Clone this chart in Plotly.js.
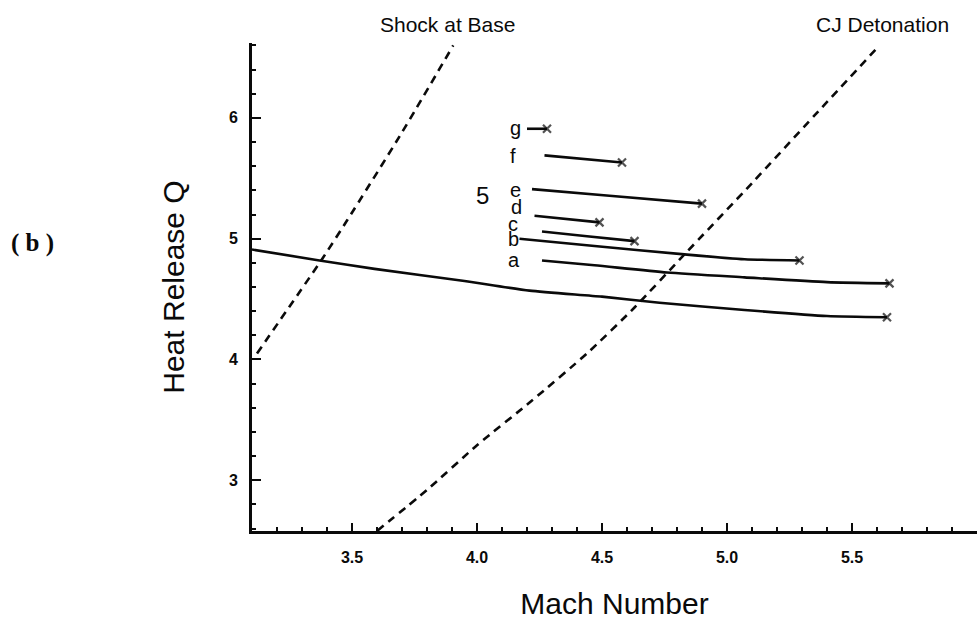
<!DOCTYPE html>
<html>
<head>
<meta charset="utf-8">
<script src="https://cdn.plot.ly/plotly-3.0.1.min.js"></script>
<style>
  html, body { margin: 0; padding: 0; background: #fff; }
  #chart { width: 978px; height: 620px; }
</style>
</head>
<body>
<div id="chart"></div>
<script>
// Heat release Q against Mach number: the base solution, branches a-g,
// and the two dashed limit curves.

// Base solution curve (ends at the x marker)
const machBase = [3.10, 3.37, 3.59, 3.95, 4.21, 4.50, 4.73, 5.07, 5.40, 5.64];
const qBase    = [4.91, 4.82, 4.75, 4.65, 4.57, 4.52, 4.47, 4.41, 4.36, 4.35];

// Labelled branches
const machA = [4.26, 4.47, 4.76, 5.07, 5.40, 5.65];
const qA    = [4.82, 4.78, 4.72, 4.68, 4.64, 4.63];
const machB = [4.17, 4.47, 4.83, 5.07, 5.29];
const qB    = [5.00, 4.94, 4.87, 4.83, 4.82];
const machC = [4.26, 4.44, 4.63];
const qC    = [5.06, 5.02, 4.98];
const machD = [4.23, 4.49];
const qD    = [5.19, 5.135];
const machE = [4.22, 4.53, 4.90];
const qE    = [5.41, 5.355, 5.29];
const machF = [4.27, 4.58];
const qF    = [5.69, 5.63];
const machG = [4.20, 4.28];
const qG    = [5.91, 5.91];

// Dashed limit curves
const machShock = [3.12, 3.38, 3.48, 3.70, 3.905];
const qShock    = [4.05, 4.83, 5.15, 5.88, 6.60];
const machCJ = [3.60, 3.80, 4.00, 4.22, 4.44, 4.63, 4.83, 5.10, 5.35, 5.61];
const qCJ    = [2.58, 2.92, 3.29, 3.66, 4.05, 4.43, 4.87, 5.46, 6.02, 6.60];

// Branch labels and where they sit
const branchNames = ['a', 'b', 'c', 'd', 'e', 'f', 'g'];
const branchLabelMach = [4.148, 4.145, 4.145, 4.156, 4.152, 4.145, 4.152];
const branchLabelQ    = [4.82, 5.00, 5.12, 5.26, 5.405, 5.686, 5.92];

// Axis ticks
const xTickVals = [3.5, 4.0, 4.5, 5.0, 5.5];
const xTickText = ['3.5', '4.0', '4.5', '5.0', '5.5'];
const yTickVals = [3, 4, 5, 6];
const yTickText = ['3', '4', '5', '6'];

const INK = '#0a0a0a';
const solid = { color: INK, width: 2.6, shape: 'spline', smoothing: 0.6 };
const endMark = { symbol: 'x-thin', line: { color: INK, width: 2.2 }, color: INK };

function branch(m, q) {
  // solid line, with an x marker on the last point only
  const sizes = m.map((_, i) => (i === m.length - 1 ? 8 : 0));
  return {
    x: m, y: q, type: 'scatter', mode: 'lines+markers',
    line: solid, marker: Object.assign({}, endMark, { size: sizes }),
    hoverinfo: 'skip', showlegend: false, cliponaxis: false
  };
}

const dashed = { color: INK, width: 2.6, dash: '8px,6px', shape: 'spline', smoothing: 0.6 };

const traces = [
  { x: machShock, y: qShock, type: 'scatter', mode: 'lines', line: dashed, showlegend: false, hoverinfo: 'skip' },
  { x: machCJ, y: qCJ, type: 'scatter', mode: 'lines', line: dashed, showlegend: false, hoverinfo: 'skip' },
  branch(machBase, qBase),
  branch(machA, qA),
  branch(machB, qB),
  branch(machC, qC),
  branch(machD, qD),
  branch(machE, qE),
  branch(machF, qF),
  branch(machG, qG)
];

const labelFont = { family: 'Liberation Sans, Arial, sans-serif', size: 20, color: INK };

const annotations = branchNames.map((t, i) => ({
  x: branchLabelMach[i], y: branchLabelQ[i], xref: 'x', yref: 'y',
  text: t, showarrow: false, font: labelFont, xanchor: 'center', yanchor: 'middle'
}));

annotations.push(
  { x: 4.02, y: 5.355, xref: 'x', yref: 'y', text: '5', showarrow: false,
    font: { family: 'Liberation Sans, Arial, sans-serif', size: 24, color: INK },
    xanchor: 'center', yanchor: 'middle' },
  { x: 0.270, y: 1.037, xref: 'paper', yref: 'paper', text: 'Shock at Base', showarrow: false,
    font: { family: 'Liberation Sans, Arial, sans-serif', size: 21, color: INK },
    xanchor: 'center', yanchor: 'middle' },
  { x: 0.870, y: 1.037, xref: 'paper', yref: 'paper', text: 'CJ Detonation', showarrow: false,
    font: { family: 'Liberation Sans, Arial, sans-serif', size: 21, color: INK },
    xanchor: 'center', yanchor: 'middle' },
  { x: -0.303, y: 0.590, xref: 'paper', yref: 'paper', text: '<b>( b )</b>', showarrow: false,
    font: { family: 'Liberation Serif, Times New Roman, serif', size: 25, color: INK },
    xanchor: 'center', yanchor: 'middle' }
);

const tickFont = { family: 'Liberation Sans, Arial, sans-serif', size: 16, color: INK, weight: 'bold' };
const titleFont = { family: 'Liberation Sans, Arial, sans-serif', size: 30, color: INK };

const layout = {
  width: 978, height: 620,
  margin: { l: 252, r: 1, t: 43, b: 89 },
  paper_bgcolor: '#fff', plot_bgcolor: '#fff',
  showlegend: false,
  xaxis: {
    range: [3.1, 6.0],
    showgrid: false, zeroline: false,
    showline: true, linecolor: INK, linewidth: 3,
    tickmode: 'array', tickvals: xTickVals, ticktext: xTickText,
    ticks: 'inside', ticklen: 8, tickwidth: 2, tickcolor: INK,
    ticklabelstandoff: 10,
    tickfont: tickFont,
    minor: { tickmode: 'linear', tick0: 0, dtick: 0.1, ticks: 'inside', ticklen: 4, tickwidth: 2, tickcolor: INK, showgrid: false },
    title: { text: 'Mach Number', font: titleFont, standoff: 30 }
  },
  yaxis: {
    range: [2.58, 6.62],
    showgrid: false, zeroline: false,
    showline: true, linecolor: INK, linewidth: 3,
    tickmode: 'array', tickvals: yTickVals, ticktext: yTickText,
    ticks: 'inside', ticklen: 9, tickwidth: 2, tickcolor: INK,
    ticklabelstandoff: 8,
    tickfont: tickFont,
    minor: { tickmode: 'linear', tick0: 0, dtick: 0.2, ticks: 'inside', ticklen: 4, tickwidth: 2, tickcolor: INK, showgrid: false },
    title: { text: 'Heat Release Q', font: titleFont, standoff: 36 }
  },
  annotations: annotations
};

Plotly.newPlot('chart', traces, layout, { staticPlot: true, displayModeBar: false });
</script>
</body>
</html>
